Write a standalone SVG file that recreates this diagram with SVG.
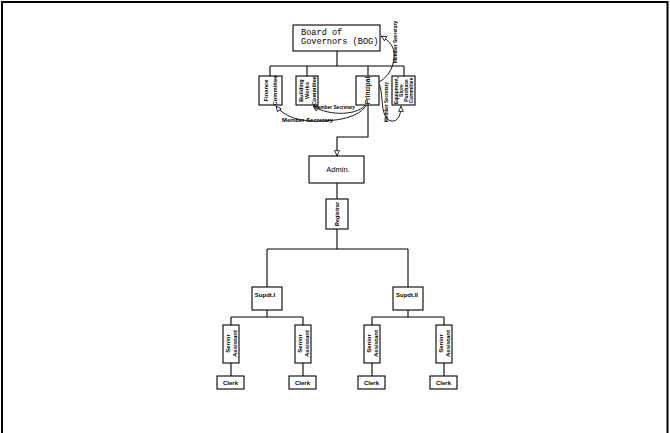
<svg xmlns="http://www.w3.org/2000/svg" width="670" height="433" viewBox="0 0 670 433">
<style>
.box{fill:#fff;stroke:#000;stroke-width:1.1}
.ln{fill:none;stroke:#000;stroke-width:1.1}
.cv{fill:none;stroke:#000;stroke-width:0.9}
.t{font-family:"Liberation Sans",Arial,sans-serif;font-weight:bold;fill:#000}
.n{font-family:"Liberation Sans",Arial,sans-serif;font-weight:normal;fill:#000}
.m{font-family:"Liberation Mono","DejaVu Sans Mono",monospace;fill:#000}
</style>
<defs>
<marker id="tri" viewBox="0 0 10 10" refX="10" refY="5" markerWidth="6" markerHeight="6" orient="auto" markerUnits="userSpaceOnUse">
<path d="M1,1 L9.5,5 L1,9 Z" fill="#fff" stroke="#000" stroke-width="1.3"/>
</marker>
</defs>
<rect x="0" y="0" width="670" height="433" fill="#fff"/>
<path d="M2,433 V2 H667.5 V433" fill="none" stroke="#000" stroke-width="2"/>

<g id="connectors">
<path class="ln" d="M337,51 V66 M270,66 H404 M270,66 V76 M307,66 V76 M368,66 V76 M404,66 V76"/>
<path class="ln" d="M368,105 V137 H337 V156" marker-end="url(#tri)"/>
<path class="ln" d="M337,183 V199 M337,229 V249 M267,249 H408 M267,249 V287 M408,249 V287"/>
<path class="ln" d="M267,310 V317 M231,317 H303 M231,317 V325 M303,317 V325"/>
<path class="ln" d="M408,310 V317 M372,317 H444 M372,317 V325 M444,317 V325"/>
<path class="ln" d="M231,363 V376 M303,363 V376 M372,363 V376 M444,363 V376"/>
<path class="cv" d="M366,104 C360,115 330,117 313,106" marker-end="url(#tri)"/>
<path class="cv" d="M367,104 C360,118 335,122 310,121 C295,120 283,115 276,106" marker-end="url(#tri)"/>
<path class="cv" d="M379,84 C384,92 379,118 391,121 C398,122 401,115 401,106" marker-end="url(#tri)"/>
<path class="cv" d="M379,82 C390,76 395,64 394,52 C393,45 388,40 381,36" marker-end="url(#tri)"/>
<text class="t" x="314" y="109" font-size="4.8" textLength="41" lengthAdjust="spacingAndGlyphs">Member Secretary</text>
<text class="t" x="282" y="122" font-size="5" textLength="51" lengthAdjust="spacingAndGlyphs">Member Secretary</text>
<text class="t" transform="translate(387.5,102) rotate(-90)" text-anchor="middle" font-size="4.8" textLength="40" lengthAdjust="spacingAndGlyphs">Member Secretary</text>
<text class="t" transform="translate(397,42) rotate(-90)" text-anchor="middle" font-size="4.8" textLength="42" lengthAdjust="spacingAndGlyphs">Member Secretary</text>
</g>

<g id="bog">
<rect class="box" x="293" y="25" width="87" height="26"/>
<text class="m" font-size="8.6"><tspan x="301" y="35">Board of</tspan><tspan x="301" y="44">Governors (BOG)</tspan></text>
</g>
<g id="finance">
<rect class="box" x="259" y="76" width="23" height="29"/>
<text class="t" transform="translate(270.5,90.5) rotate(-90)" text-anchor="middle" font-size="5.8"><tspan x="0" y="-2.5">Finance</tspan><tspan x="0" y="6.5">Committee</tspan></text>
</g>
<g id="building">
<rect class="box" x="296" y="76" width="22" height="29"/>
<text class="t" transform="translate(307,90.5) rotate(-90)" text-anchor="middle" font-size="5.6"><tspan x="0" y="-4.5">Building</tspan><tspan x="0" y="2">Works</tspan><tspan x="0" y="8.5">Committee</tspan></text>
</g>
<g id="principal">
<rect class="box" x="356" y="76" width="23" height="29"/>
<text class="t" transform="translate(369.5,90.5) rotate(-90)" text-anchor="middle" font-size="6.5"><tspan x="0" y="0">Principal</tspan></text>
</g>
<g id="equipment">
<rect class="box" x="392" y="76" width="23" height="29"/>
<text class="t" transform="translate(403.5,90.5) rotate(-90)" text-anchor="middle" font-size="5"><tspan x="0" y="-5.5">Equipment,</tspan><tspan x="0" y="-0.5">Store</tspan><tspan x="0" y="4.5">Purchase</tspan><tspan x="0" y="9.5">Committee</tspan></text>
</g>
<g id="admin">
<rect class="box" x="309" y="156" width="55" height="27"/>
<text class="n" x="338" y="172" font-size="7.5" text-anchor="middle">Admin.</text>
</g>
<g id="registrar">
<rect class="box" x="326" y="199" width="22" height="30"/>
<text class="t" transform="translate(339,214) rotate(-90)" text-anchor="middle" font-size="5.5">Registrar</text>
</g>
<g id="supdt1">
<rect class="box" x="252" y="287" width="30" height="23"/>
<text class="t" x="265" y="297" font-size="6" text-anchor="middle">Supdt.I</text>
</g>
<g id="supdt2">
<rect class="box" x="393" y="287" width="30" height="23"/>
<text class="t" x="407" y="297" font-size="6" text-anchor="middle">Supdt.II</text>
</g>
<g id="sa1">
<rect class="box" x="223" y="325" width="16" height="38"/>
<text class="t" transform="translate(231,343.5) rotate(-90)" text-anchor="middle" font-size="6"><tspan x="0" y="-1">Senior</tspan><tspan x="0" y="5.5">Assistant</tspan></text>
</g>
<g id="sa2">
<rect class="box" x="295" y="325" width="16" height="38"/>
<text class="t" transform="translate(303,343.5) rotate(-90)" text-anchor="middle" font-size="6"><tspan x="0" y="-1">Senior</tspan><tspan x="0" y="5.5">Assistant</tspan></text>
</g>
<g id="sa3">
<rect class="box" x="364" y="325" width="16" height="38"/>
<text class="t" transform="translate(372,343.5) rotate(-90)" text-anchor="middle" font-size="6"><tspan x="0" y="-1">Senior</tspan><tspan x="0" y="5.5">Assistant</tspan></text>
</g>
<g id="sa4">
<rect class="box" x="436" y="325" width="16" height="38"/>
<text class="t" transform="translate(444,343.5) rotate(-90)" text-anchor="middle" font-size="6"><tspan x="0" y="-1">Senior</tspan><tspan x="0" y="5.5">Assistant</tspan></text>
</g>
<g id="clerk1">
<rect class="box" x="217" y="376" width="27" height="13"/>
<text class="t" x="230.5" y="385" font-size="6" text-anchor="middle">Clerk</text>
</g>
<g id="clerk2">
<rect class="box" x="289" y="376" width="27" height="13"/>
<text class="t" x="302.5" y="385" font-size="6" text-anchor="middle">Clerk</text>
</g>
<g id="clerk3">
<rect class="box" x="358" y="376" width="27" height="13"/>
<text class="t" x="371.5" y="385" font-size="6" text-anchor="middle">Clerk</text>
</g>
<g id="clerk4">
<rect class="box" x="430" y="376" width="27" height="13"/>
<text class="t" x="443.5" y="385" font-size="6" text-anchor="middle">Clerk</text>
</g>
</svg>
